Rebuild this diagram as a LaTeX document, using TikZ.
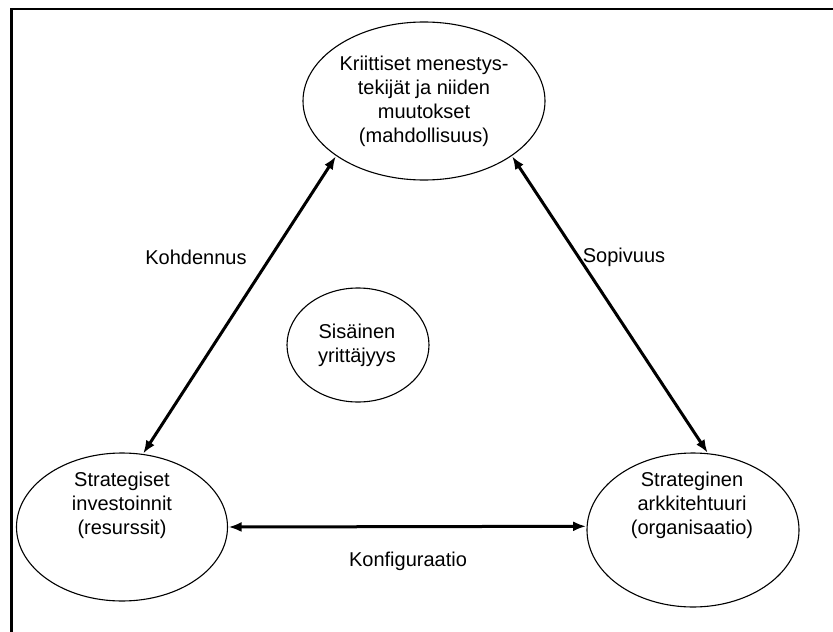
\documentclass[tikz,border=0pt]{standalone}
\usepackage{fontspec}
\setmainfont{Liberation Sans}
\usetikzlibrary{shapes.geometric,arrows.meta}
\begin{document}
\begin{tikzpicture}[x=1pt,y=-1pt,
  oval/.style={draw,ellipse,line width=1.1pt,inner sep=0pt},
  txt/.style={align=center,font=\fontsize{20}{24}\selectfont},
  link/.style={line width=3pt,{Latex[length=13pt,width=10pt]}-{Latex[length=13pt,width=10pt]},shorten <=0.5pt,shorten >=0.5pt}]
  \useasboundingbox (0,0) rectangle (833,632);
  % frame
  \coordinate (fl) at (11.5,632);
  \coordinate (fr) at (833,9);
  \draw[line width=2.2pt] (fl) |- (fr);
  % ellipses
  \node[oval,minimum width=242pt,minimum height=158pt] (top) at (424,101) {};
  \node[oval,minimum width=142pt,minimum height=114pt] (mid) at (358,345) {};
  \node[oval,minimum width=211pt,minimum height=148pt] (bl) at (122,527) {};
  \node[oval,minimum width=212pt,minimum height=154pt] (br) at (693,530) {};
  % texts
  \node[txt] (ttop) at (424,101) {Kriittiset menestys-\\tekijät ja niiden\\muutokset\\(mahdollisuus)};
  \node[txt] (tmid) at (357,345) {Sisäinen\\yrittäjyys};
  \node[txt] (tbl) at (122,505) {Strategiset\\investoinnit\\(resurssit)};
  \node[txt] (tbr) at (692,505) {Strateginen\\arkkitehtuuri\\(organisaatio)};
  % connectors
  \draw[link] (bl.74) -- (top.212);
  \draw[link] (top.328) -- (br.79);
  \draw[link] (bl.0) -- (br.178);
  % connector labels
  \node[txt] (lk) at (196,257) {Kohdennus};
  \node[txt] (ls) at (624,257) {Sopivuus};
  \node[txt] (lc) at (408,561) {Konfiguraatio};
\end{tikzpicture}
\end{document}
